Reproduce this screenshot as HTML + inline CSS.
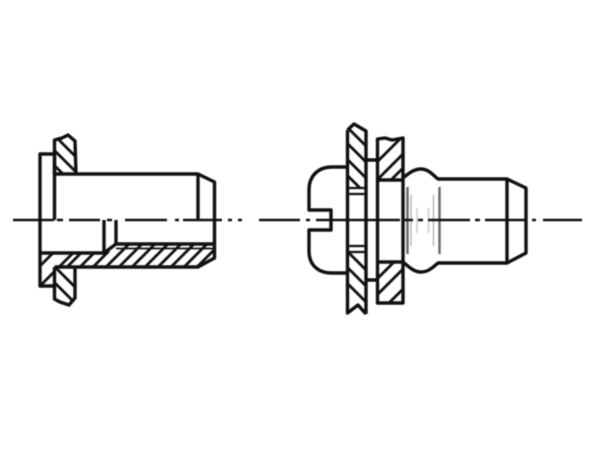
<!DOCTYPE html>
<html>
<head>
<meta charset="utf-8">
<style>
html,body{margin:0;padding:0;background:#fff}
svg{display:block;filter:blur(.4px)}
</style>
</head>
<body>
<svg width="600" height="450" viewBox="0 0 600 450" xmlns="http://www.w3.org/2000/svg">
<defs>
<clipPath id="a"><path d="M55 139L62 138L68 135L75 141L76 173H55Z"/></clipPath>
<clipPath id="b"><path d="M55 267H75V298L69 305L55 300Z"/></clipPath>
<clipPath id="c"><path d="M40 253H104L116 244L214 244V259L198 267H55V286H40Z"/></clipPath>
<clipPath id="d"><path d="M347 130L354 124L366 131V188H347Z"/></clipPath>
<clipPath id="e"><path d="M347 252H366V312L358 305L347 314Z"/></clipPath>
<clipPath id="f"><path d="M377 139H403V180H377Z"/></clipPath>
<clipPath id="g"><path d="M377 262H403V303H377Z"/></clipPath>
</defs>
<rect width="600" height="450" fill="#fff"/>

<!-- left hatching -->
<g stroke="#111" stroke-width="2.800" fill="none">
<g clip-path="url(#a)">
<path d="M50 131L85 166M50 146L85 181M50 161L85 196"/>
</g>
<g clip-path="url(#b)">
<path d="M40 252L85 297M40 268L85 313"/>
</g>
<g clip-path="url(#c)">
<path d="M38 268L55 251M38 288L75 251M66 268L83 251M79 268L96 251M92 268L109 251M105 268L131 242M118 268L144 242M131 268L157 242M144 268L170 242M157 268L183 242M170 268L196 242M183 268L209 242M196 268L222 242"/>
<path d="M116 248.500H214" stroke="#111" stroke-width="1.800"/>
</g>
</g>

<!-- left outline -->
<g stroke="#111" stroke-width="3.400" fill="none" stroke-linejoin="round">
<path d="M54.500 174V140L62 138L68 135L75 141L76 174"/>
<path d="M54.500 154H40V286H54M54.500 154V220"/>
<path d="M54.500 174H198L214.500 182V258L198 267H54.500"/>
<path d="M198 174V220"/>
<path d="M54.500 267V299L60 302L69 305L75 298V267"/>
<path d="M40 253H104L116 244H214"/>
<path d="M104 220V252M116 220V244"/>
</g>

<!-- right hatching -->
<g stroke="#111" stroke-width="2.800" fill="none">
<g clip-path="url(#d)">
<path d="M340 120L375 155M340 136L375 171M340 152L375 187M340 168L375 203"/>
</g>
<g clip-path="url(#e)">
<path d="M340 244L375 279M340 260L375 295M340 276L375 311"/>
</g>
<g clip-path="url(#f)">
<path d="M374 165L405 134M374 183L414 143M387 184L417 154"/>
</g>
<g clip-path="url(#g)">
<path d="M374 282L395 261M374 298L410 262M387 305L418 274"/>
</g>
</g>

<!-- right gray shading lines -->
<g fill="none">
<path d="M407.500 187V254M439.500 187V254" stroke="#666" stroke-width="2.400"/>
<path d="M411 195V246M433.500 195V246" stroke="#bbb" stroke-width="1.500"/>
<path d="M417 208V233M428.500 208V233" stroke="#ccc" stroke-width="1.500"/>
</g>

<!-- right outline -->
<g stroke="#111" stroke-width="3.400" fill="none" stroke-linejoin="round">
<path d="M347.500 167H332C318 167 309 176 309 190V210H331V230H309V251C309 265 318 273 332 273H347.500"/>
<path d="M347.500 130L354 124L366 131V314"/>
<path d="M347.500 130V313L358 305L366 314"/>
<path d="M366 160H377M366 280H377"/>
<path d="M377.500 139L385 138L392 140L403 138V303H377.500V139Z"/>
<path d="M377.500 180H403M377.500 262H403"/>
<path d="M403 178C409 173 414 169 421 169C428 169 432 174 438 179H507L526 188V253L507 263H438C432 268 428 272 421 272C414 272 409 267 403 262"/>
<path d="M507 179V263"/>
</g>
<path d="M347.500 188H366M347.500 194H366M347.500 246H366M347.500 252H366" stroke="#111" stroke-width="2.200" fill="none"/>

<!-- centre lines -->
<g stroke="#111" stroke-width="2.400" fill="none">
<path d="M13 220H54M57 220H63M69 220H100M107 220H112M125 220H167M175 220H179M183 220H222M228 220H232M238 220H242"/>
<path d="M259 220H300M306 220H310M316 220H400M403 220H413M418 220H423M428 220H470M475 220H480M485 220H527M532 220H536M543 220H582"/>
</g>
</svg>
</body>
</html>
